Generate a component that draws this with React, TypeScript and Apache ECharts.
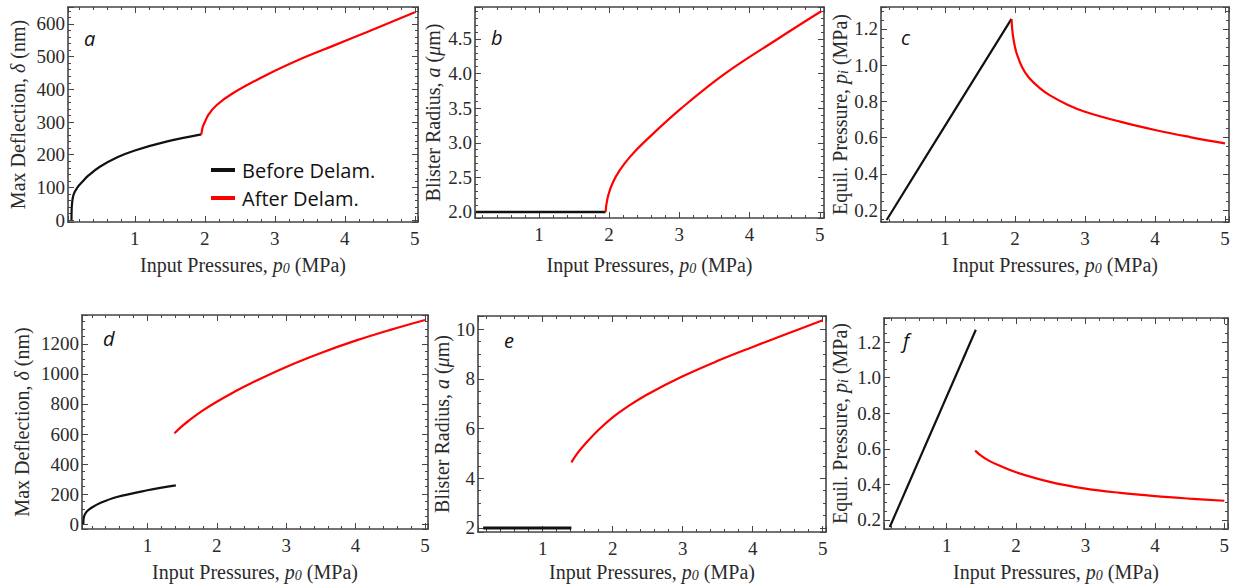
import React, { useEffect, useRef } from "react";
import * as echarts from "echarts";

// ---------- data ----------
const aBeforeX = [0.095, 0.097, 0.105, 0.125, 0.18, 0.25, 0.33, 0.5, 0.75, 1.0, 1.45, 1.95];
const aBeforeY = [0, 30, 55, 78, 100, 117, 135, 163, 192, 213, 240, 262];
const aAfterX = [1.95, 1.97, 2.0, 2.05, 2.17, 2.4, 2.88, 3.36, 3.83, 4.31, 5.0];
const aAfterY = [262, 285, 300, 322, 352, 388, 444, 492, 533, 575, 636];

const bBeforeX = [0.1, 1.95];
const bBeforeY = [2.0, 2.0];
const bAfterX = [1.95, 1.96, 1.99, 2.05, 2.15, 2.3, 2.51, 3.03, 3.65, 4.4, 5.02];
const bAfterY = [2.0, 2.1, 2.25, 2.42, 2.6, 2.8, 3.02, 3.5, 4.0, 4.5, 4.9];

const cBeforeX = [0.167, 1.0, 1.95];
const cBeforeY = [0.145, 0.665, 1.255];
const cAfterX = [1.95, 1.96, 1.98, 2.02, 2.1, 2.2, 2.35, 2.5, 2.75, 3.0, 3.5, 4.0, 4.5, 5.0];
const cAfterY = [1.255, 1.2, 1.14, 1.07, 0.99, 0.93, 0.875, 0.833, 0.782, 0.743, 0.688, 0.642, 0.603, 0.568];

const dBeforeX = [0.077, 0.079, 0.085, 0.1, 0.13, 0.2, 0.32, 0.56, 1.0, 1.41];
const dBeforeY = [0, 25, 45, 65, 85, 110, 140, 180, 225, 258];
const dAfterX = [1.39, 1.5, 1.6, 1.8, 2.0, 2.25, 2.5, 3.0, 3.5, 4.0, 4.5, 5.0];
const dAfterY = [605, 652, 690, 757, 815, 880, 940, 1047, 1140, 1222, 1294, 1360];

const eBeforeX = [0.15, 1.41];
const eBeforeY = [2.0, 2.0];
const eAfterX = [1.41, 1.5, 1.6, 1.8, 2.0, 2.25, 2.5, 3.0, 3.5, 4.0, 4.5, 5.0];
const eAfterY = [4.64, 5.02, 5.36, 5.95, 6.45, 6.95, 7.38, 8.1, 8.72, 9.28, 9.82, 10.35];

const fBeforeX = [0.18, 1.42];
const fBeforeY = [0.16, 1.27];
const fAfterX = [1.41, 1.5, 1.6, 1.75, 2.0, 2.5, 3.0, 3.5, 4.0, 4.5, 5.0];
const fAfterY = [0.59, 0.56, 0.535, 0.507, 0.468, 0.413, 0.376, 0.352, 0.334, 0.32, 0.308];

const panelLetters = ["a", "b", "c", "d", "e", "f"];
const legendNames = ["Before Delam.", "After Delam."];
const xTitle = "Input Pressures, {i|p}{s|0} (MPa)";
const yTitleDeflection = "Max Deflection, {i|δ} (nm)";
const yTitleRadius = "Blister Radius, {i|a} ({i|μ}m)";
const yTitlePressure = "Equil. Pressure, {i|p}{s|i} (MPa)";

// ---------- layout / style ----------
const SERIF = "'Liberation Serif', 'Times New Roman', serif";
const SANS = "'Open Sans', 'Noto Sans', sans-serif";
const TEXT = "#2a2a2a";
const FRAME = "#454545";

const pair = (xs: number[], ys: number[]) => xs.map((x, i) => [x, ys[i]]);

type Panel = {
  grid: { left: number; top: number; width: number; height: number };
  x: [number, number];
  y: [number, number];
  yInt: number;
  yMinor: number;
  yDec: number;
  yName: string;
  yGap: number;
  xGap: number;
  before: number[][];
  after: number[][];
  bw: number;
  letterPos: [number, number];
};

const panels: Panel[] = [
  {
    grid: { left: 68, top: 7, width: 350, height: 215 },
    x: [0.045, 5.045], y: [-6, 652], yInt: 100, yMinor: 5, yDec: 0,
    yName: yTitleDeflection, yGap: 40, xGap: 33,
    before: pair(aBeforeX, aBeforeY), after: pair(aAfterX, aAfterY), bw: 2.2,
    letterPos: [84, 38],
  },
  {
    grid: { left: 475, top: 7, width: 349, height: 211 },
    x: [0.09, 5.06], y: [1.913, 4.962], yInt: 0.5, yMinor: 5, yDec: 1,
    yName: yTitleRadius, yGap: 32, xGap: 37,
    before: pair(bBeforeX, bBeforeY), after: pair(bAfterX, bAfterY), bw: 2.5,
    letterPos: [491, 37],
  },
  {
    grid: { left: 881, top: 7, width: 348, height: 215 },
    x: [0.086, 5.057], y: [0.134, 1.321], yInt: 0.2, yMinor: 4, yDec: 1,
    yName: yTitlePressure, yGap: 31, xGap: 33,
    before: pair(cBeforeX, cBeforeY), after: pair(cAfterX, cAfterY), bw: 2.2,
    letterPos: [901, 37],
  },
  {
    grid: { left: 82, top: 315, width: 346, height: 214 },
    x: [0.058, 5.043], y: [-33, 1393], yInt: 200, yMinor: 4, yDec: 0,
    yName: yTitleDeflection, yGap: 50, xGap: 33,
    before: pair(dBeforeX, dBeforeY), after: pair(dAfterX, dAfterY), bw: 2.2,
    letterPos: [103, 338],
  },
  {
    grid: { left: 478, top: 316, width: 348, height: 216 },
    x: [0.076, 5.047], y: [1.839, 10.523], yInt: 2, yMinor: 4, yDec: 0,
    yName: yTitleRadius, yGap: 26, xGap: 30,
    before: pair(eBeforeX, eBeforeY), after: pair(eAfterX, eAfterY), bw: 3,
    letterPos: [504, 340],
  },
  {
    grid: { left: 884, top: 318, width: 344, height: 211 },
    x: [0.097, 5.053], y: [0.149, 1.336], yInt: 0.2, yMinor: 4, yDec: 1,
    yName: yTitlePressure, yGap: 34, xGap: 33,
    before: pair(fBeforeX, fBeforeY), after: pair(fAfterX, fAfterY), bw: 2.2,
    letterPos: [903, 340],
  },
];

const nameStyle = {
  fontFamily: SERIF,
  fontSize: 20,
  color: TEXT,
  rich: {
    i: { fontFamily: SERIF, fontSize: 20, fontStyle: "italic", color: TEXT },
    s: { fontFamily: SERIF, fontSize: 14, fontStyle: "italic", color: TEXT, verticalAlign: "bottom" },
  },
};

function buildOption() {
  const grid: any[] = [];
  const xAxis: any[] = [];
  const yAxis: any[] = [];
  const series: any[] = [];
  const graphic: any[] = [];

  panels.forEach((p, i) => {
    grid.push({ ...p.grid, containLabel: false, outerBoundsMode: "none" });
    const common = {
      type: "value",
      gridIndex: i,
      splitLine: { show: false },
      minorSplitLine: { show: false },
      axisLine: { show: true, onZero: false, lineStyle: { color: FRAME, width: 1.6 } },
      axisTick: { show: true, inside: true, length: 6, lineStyle: { color: FRAME, width: 1 } },
    };
    const xBase = {
      ...common,
      min: p.x[0], max: p.x[1], minInterval: 1, maxInterval: 1, splitNumber: 5,
      minorTick: { show: true, splitNumber: 5, length: 3, lineStyle: { color: FRAME, width: 1 } },
    };
    xAxis.push({
      ...xBase,
      position: "bottom",
      axisLabel: {
        show: true, showMinLabel: false, showMaxLabel: false,
        fontFamily: SERIF, fontSize: 19, color: TEXT, margin: 7,
        formatter: (v: number) => String(Math.round(v)),
      },
      name: xTitle, nameLocation: "middle", nameGap: p.xGap, nameTextStyle: nameStyle,
    });
    xAxis.push({ ...xBase, position: "top", axisLabel: { show: false } });
    const yBase = {
      ...common,
      min: p.y[0], max: p.y[1], minInterval: p.yInt, maxInterval: p.yInt, splitNumber: 6,
      minorTick: { show: true, splitNumber: p.yMinor, length: 3, lineStyle: { color: FRAME, width: 1 } },
    };
    yAxis.push({
      ...yBase,
      position: "left",
      axisLabel: {
        show: true, showMinLabel: false, showMaxLabel: false,
        fontFamily: SERIF, fontSize: 19, color: TEXT, margin: 3,
        formatter: (v: number) => v.toFixed(p.yDec),
      },
      name: p.yName, nameLocation: "middle", nameRotate: 90, nameGap: p.yGap, nameTextStyle: nameStyle,
    });
    yAxis.push({ ...yBase, position: "right", axisLabel: { show: false } });

    series.push({
      name: legendNames[0], type: "line", xAxisIndex: 2 * i, yAxisIndex: 2 * i,
      data: p.before, showSymbol: false, symbol: "none", smooth: 0.4,
      color: "#111", lineStyle: { color: "#111", width: p.bw }, clip: true,
    });
    series.push({
      name: legendNames[1], type: "line", xAxisIndex: 2 * i, yAxisIndex: 2 * i,
      data: p.after, showSymbol: false, symbol: "none", smooth: 0.4,
      color: "#ff0000", lineStyle: { color: "#ff0000", width: 2.2 }, clip: true,
    });

    graphic.push({
      type: "text", x: p.letterPos[0], y: p.letterPos[1], silent: true,
      style: {
        text: panelLetters[i], fontFamily: SANS, fontStyle: "italic", fontSize: 20,
        fill: "#111", verticalAlign: "middle",
      },
    });
  });

  return {
    animation: false,
    backgroundColor: "#ffffff",
    grid, xAxis, yAxis, series, graphic,
    legend: {
      show: true, data: legendNames, orient: "vertical", left: 211, top: 160, padding: 0,
      itemWidth: 24, itemHeight: 4, itemGap: 8, icon: "rect", selectedMode: false,
      textStyle: { fontFamily: SANS, fontSize: 20, color: "#111", padding: [0, 0, 0, 2] },
    },
  };
}

export default function App() {
  const ref = useRef<HTMLDivElement>(null);
  useEffect(() => {
    document.body.style.margin = "0";
    if (!ref.current) return;
    const chart = echarts.init(ref.current, undefined, { renderer: "svg" });
    chart.setOption(buildOption() as any);
    return () => chart.dispose();
  }, []);
  return (
    <div
      ref={ref}
      style={{ position: "absolute", left: 0, top: 0, width: 1239, height: 588, background: "#fff" }}
    />
  );
}
